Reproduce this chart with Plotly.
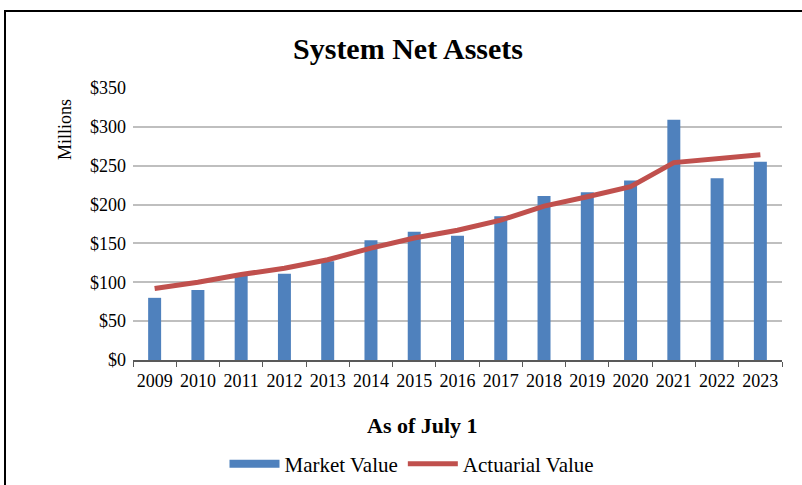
import plotly.graph_objects as go

years = [str(y) for y in range(2009, 2024)]
market_value = [80, 90, 108, 111, 127, 154, 165, 160, 185, 211, 216, 231, 309, 234, 255]
actuarial_value = [92, 100, 110, 118, 129, 144, 157, 167, 180, 198, 210, 223, 254, 259, 264]
y_ticks = [0, 50, 100, 150, 200, 250, 300, 350]

FONT = "Liberation Serif, Times New Roman, serif"
BLUE = "#4F81BD"
RED = "#C0504D"

# plot area in pixels (page coords)
L, R, T, B = 133, 782, 88, 360
PW, PH = R - L, B - T

fig = go.Figure()
fig.add_trace(
    go.Bar(
        x=years,
        y=market_value,
        name="Market Value",
        marker={"color": BLUE, "line": {"width": 0}},
        width=0.3,
        showlegend=False,
        legendgroup="mv",
    )
)
# legend entry drawn as a wide band like the original
fig.add_trace(
    go.Scatter(
        x=[None],
        y=[None],
        name="Market Value",
        mode="lines",
        line={"color": BLUE, "width": 8},
        legendgroup="mv",
    )
)
fig.add_trace(
    go.Scatter(
        x=years,
        y=actuarial_value,
        name="Actuarial Value",
        mode="lines",
        line={"color": RED, "width": 5},
    )
)

fig.update_layout(
    width=802,
    height=485,
    paper_bgcolor="white",
    plot_bgcolor="white",
    font={"family": FONT, "color": "black", "size": 18},
    margin={"l": L, "r": 802 - R, "t": T, "b": 485 - B, "autoexpand": False},
    title={
        "text": "<b>System Net Assets</b>",
        "x": 408 / 802,
        "xanchor": "center",
        "y": 1 - 48 / 485,
        "yanchor": "middle",
        "font": {"size": 30, "family": FONT},
    },
    showlegend=True,
    legend={
        "orientation": "h",
        "x": (412 - L) / PW,
        "xanchor": "center",
        "y": -(464 - B) / PH,
        "yanchor": "middle",
        "font": {"size": 21},
        "itemwidth": 50,
    },
    xaxis={
        "type": "category",
        "showline": True,
        "linecolor": "#595959",
        "linewidth": 1.5,
        "ticks": "outside",
        "tickson": "boundaries",
        "ticklen": 5,
        "tickcolor": "#595959",
        "showgrid": False,
        "tickangle": 0,
        "ticklabelstandoff": 4,
        "tickfont": {"size": 18},
    },
    yaxis={
        "range": [0, 350],
        "tickvals": y_ticks,
        "ticktext": ["$" + str(v) for v in y_ticks],
        "showgrid": True,
        "gridcolor": "#BFBFBF",
        "gridwidth": 1.5,
        "zeroline": False,
        "showline": False,
        "ticks": "",
        "ticklabelstandoff": 6,
        "tickfont": {"size": 18},
    },
    annotations=[
        {
            "text": "<b>As of July 1</b>",
            "xref": "paper",
            "yref": "paper",
            "x": (422 - L) / PW,
            "y": -(425 - B) / PH,
            "showarrow": False,
            "font": {"size": 22},
            "xanchor": "center",
            "yanchor": "middle",
        },
        {
            "text": "Millions",
            "xref": "paper",
            "yref": "paper",
            "x": (65 - L) / PW,
            "y": 1 - (130 - T) / PH,
            "showarrow": False,
            "textangle": -90,
            "font": {"size": 18},
            "xanchor": "center",
            "yanchor": "middle",
        },
    ],
    shapes=[
        {
            "type": "rect",
            "xref": "paper",
            "yref": "paper",
            "x0": (5 - L) / PW,
            "x1": (815 - L) / PW,
            "y0": -(500 - B) / PH,
            "y1": 1 + (T - 11) / PH,
            "line": {"color": "black", "width": 2},
            "fillcolor": "rgba(0,0,0,0)",
            "layer": "below",
        }
    ],
)

fig.write_html(
    "out.html",
    config={"displayModeBar": False},
    post_script="document.body.style.margin = '0';",
)
